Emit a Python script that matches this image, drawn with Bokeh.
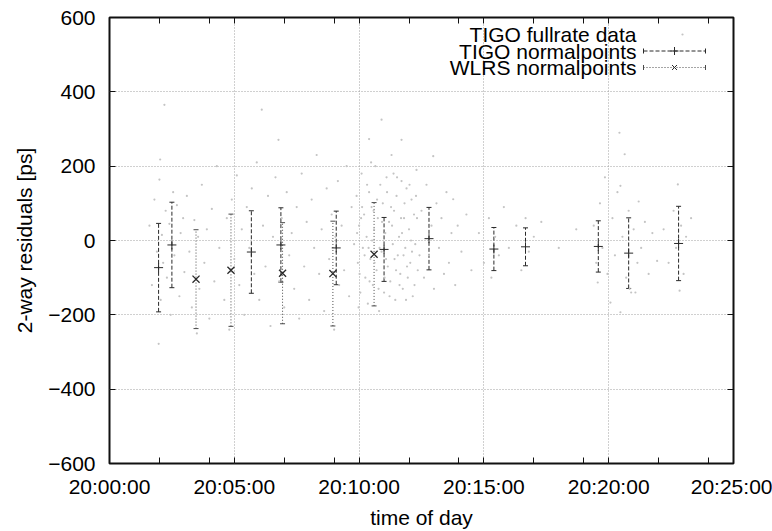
import pandas as pd
from bokeh.plotting import figure
from bokeh.models import (ColumnDataSource, Range1d, FixedTicker, DatetimeTickFormatter,
                          DatetimeAxis, LinearAxis, Whisker, TeeHead, Arrow, Label,
                          CustomJSTickFormatter)
from bokeh.embed import file_html
from bokeh.resources import INLINE

# ---------------- data ----------------
DAY = "2008-06-01 "
x_tick_labels = ["20:00:00", "20:05:00", "20:10:00", "20:15:00", "20:20:00", "20:25:00"]
x_minor_ticks = ["20:02:00", "20:04:00", "20:07:00", "20:09:00", "20:12:00", "20:14:00",
                 "20:17:00", "20:19:00", "20:22:00", "20:24:00"]
y_ticks = [-600, -400, -200, 0, 200, 400, 600]

tigo_np_time = ["20:01:58", "20:02:30", "20:05:41", "20:06:52", "20:09:05", "20:11:00",
                "20:12:48", "20:15:24", "20:16:40", "20:19:35", "20:20:48", "20:22:48"]
tigo_np_val = [-73, -12, -31, -12, -20, -24, 5, -23, -17, -16, -34, -8]
tigo_np_err = [119, 115, 111, 100, 99, 86, 84, 58, 51, 69, 95, 100]

wlrs_np_time = ["20:03:28", "20:04:52", "20:06:56", "20:08:57", "20:10:36"]
wlrs_np_val = [-104, -80, -88, -89, -37]
wlrs_np_err = [133, 151, 136, 141, 139]

# TIGO full-rate returns: minutes after 20:00:00 and residual [ps]
full_min = [1.6, 1.7, 1.8, 1.9, 1.97, 2.0, 2.03, 2.05, 2.1, 2.15, 2.2, 2.25, 2.3, 2.4, 2.45, 2.55, 2.6, 2.7, 2.8, 2.85, 2.95, 3.0,
            3.1, 3.2, 3.3, 3.4, 3.5, 3.55, 3.6, 3.7, 3.8, 3.9, 4.0, 4.1, 4.2, 4.3, 4.4,
            4.6, 4.7, 4.8, 4.9, 5.0, 5.1, 5.2, 5.3, 5.4, 5.5, 5.6, 5.7, 5.8, 5.9, 6.0, 6.1, 6.15, 6.25, 6.35, 6.45,
            6.55, 6.65, 6.77, 6.8, 6.9, 7.0, 7.1, 7.2, 7.3, 7.4, 7.5, 7.6, 7.7, 7.8, 7.9, 8.0, 8.1, 8.2, 8.3, 8.4,
            8.5, 8.6, 8.7, 8.8, 8.9, 9.0, 9.05, 9.15, 9.2, 9.3, 9.4, 9.5, 9.6, 9.7, 9.8,
            9.9, 9.95, 10.0, 10.05, 10.1, 10.15, 10.2, 10.25, 10.3, 10.35, 10.4, 10.4, 10.45, 10.5, 10.55, 10.6, 10.65, 10.7, 10.75, 10.8, 10.85, 10.9, 10.9, 10.95,
            11.0, 11.05, 11.1, 11.15, 11.2, 11.25, 11.3, 11.35, 11.4, 11.45, 11.5, 11.55, 11.6, 11.65, 11.7, 11.7, 11.75, 11.8, 11.85, 11.9, 11.95, 12.0, 12.05, 12.1, 12.15, 12.2, 12.25, 12.3, 12.35,
            9.92, 10.02, 10.12, 10.22, 10.32, 10.42, 10.52, 10.62, 10.72, 10.82, 10.92, 11.02, 11.12, 11.22, 11.32, 11.42, 11.52, 11.62, 11.72, 11.82, 11.92, 12.02, 12.12, 12.22, 12.32, 12.42,
            9.98, 10.08, 10.38, 10.48, 10.58, 10.78, 11.08, 11.28, 11.38, 11.48, 11.68, 11.78, 11.88, 12.08, 12.28,
            12.5, 12.6, 12.7, 12.8, 12.9, 12.97, 13.0, 13.1, 13.2, 13.3, 13.4, 13.5, 13.6, 13.7, 13.77, 13.85, 13.95, 14.1, 14.3, 14.5,
            14.8, 15.0, 15.2, 15.3, 15.45, 15.6, 15.8, 16.0, 16.3, 16.5, 16.67, 16.8, 17.0, 17.3, 18.0, 18.7,
            19.4, 19.5, 19.56, 19.65, 19.75, 19.85, 19.95, 20.07, 20.15, 20.25, 20.35, 20.43, 20.47, 20.47, 20.55, 20.64, 20.7, 20.8, 20.84, 20.9, 21.0, 21.07, 21.15, 21.2, 21.3, 21.45, 21.6, 21.75, 21.94,
            22.2, 22.4, 22.6, 22.7, 22.77, 22.84, 22.9, 23.0, 23.1, 23.3]
full_ps = [40, -120, 110, -30, -278, 164, 218, -160, 15, -60, 365, 80, -100, 45, -200, 130, -40, 95, -150, 20, 60, -85,
           120, -30, -180, 55, -250, 10, -130, 150, -60, 30, -210, 85, -110, 200, -20,
           -160, 60, -240, 110, -50, 175, -120, 30, -200, 90, -20, 140, -90, 210, -160, 352, 40, -70, 120, -230,
           10, 170, 271, -110, 60, -180, 130, -40, 20, -130, 90, -210, 180, -70, 50, -160, 110, -20, 230, -90,
           30, -190, 140, -50, 70, -240, 10, 160, -120, 40, -80, 200, -150, 90, -10,
           120, -60, 40, -140, 180, -20, 70, -100, 10, -170, 130, 273, -50, 90, -120, 30, 200, -80, 60, -190, 150, -30, 325, 100,
           -140, 20, 170, -70, 50, -110, 230, -10, 80, -160, 120, -40, 10, -90, 160, 271, -130, 60, -20, 140, -100, 30, -60, 110, -150, 70, -10, 190, -80,
           20, -90, 90, -40, 150, -110, 0, -60, 110, -20, 50, -100, 130, -150, 40, -50, 170, -120, 20, 100, -70, 150, -30, -120, 60, -40,
           -180, 60, -20, 210, 80, -130, -50, 90, 180, -80, 60, -40, -160, 0, 120,
           80, -100, 150, -40, 40, 227, -130, 100, -20, 60, -90, 130, -60, 20, 111, -120, 40, -30, 70, -80,
           20, -60, 60, -100, 10, -40, 90, -20, 40, -80, 60, -30, 10, 50, -20, 30,
           40, -60, -113, 100, -20, 170, -90, -167, 60, -40, 130, 290, 147, -193, 10, 232, -100, 80, -130, -140, 30, -140, -60, 105, -20, 50, -90, 20, -55,
           30, -60, 80, -20, 151, -135, 40, -90, 10, 60]


def ms(s):
    return pd.Timestamp(DAY + s).value / 1e6


t0 = ms(x_tick_labels[0])
t1 = ms(x_tick_labels[-1])
full_t = [t0 + m * 60000.0 for m in full_min]

tigo = ColumnDataSource(dict(
    t=[ms(s) for s in tigo_np_time], v=tigo_np_val,
    lo=[v - e for v, e in zip(tigo_np_val, tigo_np_err)],
    up=[v + e for v, e in zip(tigo_np_val, tigo_np_err)]))
wlrs = ColumnDataSource(dict(
    t=[ms(s) for s in wlrs_np_time], v=wlrs_np_val,
    lo=[v - e for v, e in zip(wlrs_np_val, wlrs_np_err)],
    up=[v + e for v, e in zip(wlrs_np_val, wlrs_np_err)]))
full = ColumnDataSource(dict(t=full_t, v=full_ps))

# ---------------- styling ----------------
FONT = "Liberation Sans"
FS = "21px"
INK = "#111111"
FRAME_W, FRAME_H = 624, 446

p = figure(width=772, height=531, x_axis_type="datetime", output_backend="svg",
           toolbar_location=None, x_range=Range1d(t0, t1), y_range=Range1d(-600, 600),
           min_border_left=109, min_border_right=39, min_border_top=17, min_border_bottom=68)
p.background_fill_color = "white"
p.border_fill_color = "white"
p.outline_line_color = INK
p.outline_line_width = 2

xticker = FixedTicker(ticks=[ms(s) for s in x_tick_labels], minor_ticks=[ms(s) for s in x_minor_ticks])
yticker = FixedTicker(ticks=y_ticks, minor_ticks=[])
fmt = "%H:%M:%S"
xfmt = DatetimeTickFormatter(seconds=fmt, minsec=fmt, minutes=fmt, hourmin=fmt, hours=fmt,
                             days=fmt, months=fmt, years=fmt, milliseconds=fmt)

xa = p.xaxis[0]
xa.ticker = xticker
xa.formatter = xfmt
xa.axis_label = "time of day"
xa.major_label_standoff = 11
xa.axis_label_standoff = 5

ya = p.yaxis[0]
ya.ticker = yticker
ya.axis_label = "2-way residuals [ps]"
ya.major_label_standoff = 14
ya.axis_label_standoff = 9

top = DatetimeAxis(ticker=xticker, formatter=CustomJSTickFormatter(code="return ''"))
right = LinearAxis(ticker=yticker, formatter=CustomJSTickFormatter(code="return ''"))
p.add_layout(top, "above")
p.add_layout(right, "right")

for ax in (xa, ya, top, right):
    ax.axis_line_color = None
    ax.major_tick_in = 6
    ax.major_tick_out = 0
    ax.minor_tick_in = 6
    ax.minor_tick_out = 0
    ax.major_tick_line_color = INK
    ax.minor_tick_line_color = INK
    ax.major_tick_line_width = 1
    ax.major_label_text_font = FONT
    ax.major_label_text_font_size = FS
    ax.major_label_text_color = "black"
    ax.axis_label_text_font = FONT
    ax.axis_label_text_font_size = FS
    ax.axis_label_text_font_style = "normal"
    ax.axis_label_text_color = "black"
for ax in (top, right):
    ax.major_label_standoff = 0

p.xgrid.ticker = FixedTicker(ticks=[ms(s) for s in x_tick_labels])
p.ygrid.ticker = FixedTicker(ticks=y_ticks)
for g in (p.xgrid, p.ygrid):
    g.grid_line_color = "#a0a0a0"
    g.grid_line_dash = "1 2"
    g.grid_line_width = 1

# full-rate cloud
p.scatter("t", "v", source=full, marker="circle", size=2.2, line_color=None,
          fill_color="#c4c4c4")

# normal points with error bars
TIGO_C = "#2a2a2a"
WLRS_C = "#4a4a4a"
p.add_layout(Whisker(source=tigo, base="t", lower="lo", upper="up", line_color=TIGO_C,
                     line_dash="4 2", line_width=1,
                     lower_head=TeeHead(size=5, line_color=TIGO_C, line_width=1),
                     upper_head=TeeHead(size=5, line_color=TIGO_C, line_width=1)))
p.add_layout(Whisker(source=wlrs, base="t", lower="lo", upper="up", line_color=WLRS_C,
                     line_dash="1 2", line_width=1,
                     lower_head=TeeHead(size=5, line_color=WLRS_C, line_width=1),
                     upper_head=TeeHead(size=5, line_color=WLRS_C, line_width=1)))
p.scatter("t", "v", source=tigo, marker="cross", size=9, line_color=TIGO_C, line_width=1)
p.scatter("t", "v", source=wlrs, marker="x", size=10, line_color=TIGO_C, line_width=1.3)


# ---------------- legend (top right, text left of the sample) ----------------
def fx(px):
    return t0 + (t1 - t0) * px / FRAME_W


def fy(py):
    return 600 - 1200 * py / FRAME_H


LEG_TEXT_X = 527
LEG_S0, LEG_S1 = 534, 596
LEG_ROWS = [17, 33.5, 50]
leg_labels = ["TIGO fullrate data", "TIGO normalpoints", "WLRS normalpoints"]
for lab, ry in zip(leg_labels, LEG_ROWS):
    p.add_layout(Label(x=fx(LEG_TEXT_X), y=fy(ry), text=lab, text_align="right",
                       text_baseline="middle", text_font=FONT, text_font_size=FS,
                       text_color="black"))
mid = (LEG_S0 + LEG_S1) / 2
p.scatter(x=[fx(mid + 8)], y=[fy(LEG_ROWS[0])], marker="circle", size=2.2,
          line_color=None, fill_color="#c4c4c4")
p.add_layout(Arrow(x_start=fx(LEG_S0), y_start=fy(LEG_ROWS[1]), x_end=fx(LEG_S1),
                   y_end=fy(LEG_ROWS[1]), line_color=TIGO_C, line_dash="4 2", line_width=1,
                   start=TeeHead(size=5, line_color=TIGO_C, line_width=1),
                   end=TeeHead(size=5, line_color=TIGO_C, line_width=1)))
p.add_layout(Arrow(x_start=fx(LEG_S0), y_start=fy(LEG_ROWS[2]), x_end=fx(LEG_S1),
                   y_end=fy(LEG_ROWS[2]), line_color=WLRS_C, line_dash="1 2", line_width=1,
                   start=TeeHead(size=5, line_color=WLRS_C, line_width=1),
                   end=TeeHead(size=5, line_color=WLRS_C, line_width=1)))
p.scatter(x=[fx(mid)], y=[fy(LEG_ROWS[1])], marker="cross", size=8, line_color=TIGO_C, line_width=1)
p.scatter(x=[fx(mid)], y=[fy(LEG_ROWS[2])], marker="x", size=7, line_color=TIGO_C, line_width=1)

open("out.html", "w").write(file_html(p, INLINE))
